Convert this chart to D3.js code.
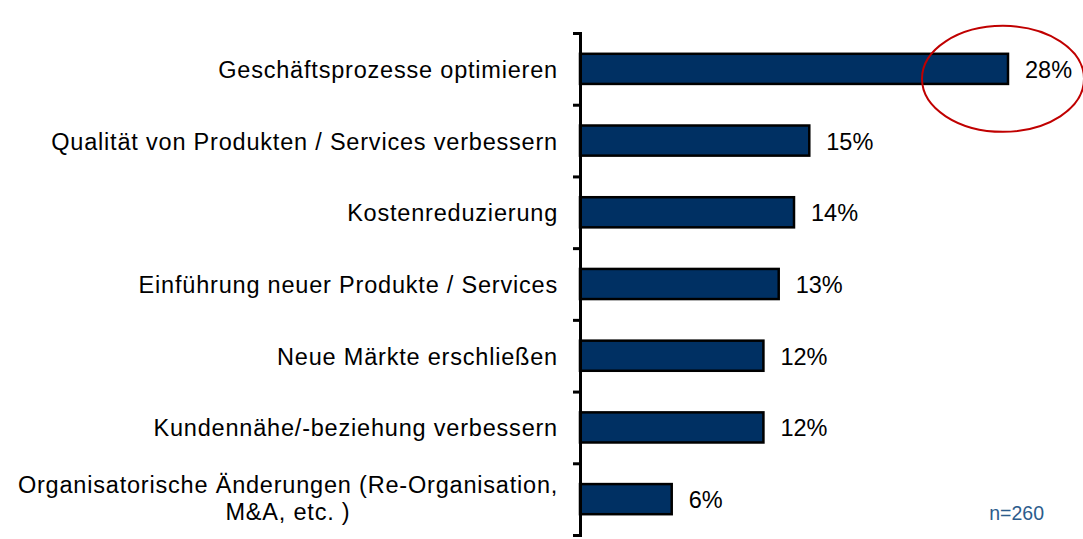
<!DOCTYPE html>
<html><head><meta charset="utf-8">
<script src="https://cdn.jsdelivr.net/npm/d3@7"></script>
<style>body{margin:0;background:#fff}svg{display:block}</style>
</head><body>
<script>
const categories = [
  "Geschäftsprozesse optimieren",
  "Qualität von Produkten / Services verbessern",
  "Kostenreduzierung",
  "Einführung neuer Produkte / Services",
  "Neue Märkte erschließen",
  "Kundennähe/-beziehung verbessern",
  "Organisatorische Änderungen (Re-Organisation,\nM&A, etc. )"
];
const values = [28, 15, 14, 13, 12, 12, 6];
const note = "n=260";

(function () {
const W = 1083, H = 539;
const svg = d3.select("body").append("svg").attr("width", W).attr("height", H);
const x0 = 580, yTop = 33, yBottom = 535;
const x = d3.scaleLinear().domain([0, 28]).range([x0, 1008]);
const y = d3.scaleBand().domain(categories).range([yTop, yBottom]).paddingInner(0.58).paddingOuter(0.29);
const font = "Liberation Sans, Arial, sans-serif";

// bars
svg.selectAll("rect.bar").data(values).join("rect")
  .attr("x", x(0)).attr("y", (d, i) => y(categories[i]))
  .attr("width", d => x(d) - x(0)).attr("height", y.bandwidth())
  .attr("fill", "#003063").attr("stroke", "#000").attr("stroke-width", 2.5);

// axis
const axis = d3.axisLeft(d3.scaleLinear().domain([0, 7]).range([yTop, yBottom]))
  .ticks(7).tickSize(7).tickFormat("");
const ag = svg.append("g").attr("transform", `translate(${x0},0)`).call(axis);
ag.select(".domain").attr("stroke", "#000").attr("stroke-width", 3);
ag.selectAll(".tick line").attr("stroke", "#000").attr("stroke-width", 3);

// category labels
categories.forEach((c, i) => {
  const lines = c.split("\n");
  const cy = y(c) + y.bandwidth() / 2;
  const t = svg.append("text").attr("font-family", font).attr("font-size", 23.5)
    .attr("letter-spacing", 0.8).attr("fill", "#000");
  if (lines.length === 1) {
    t.attr("x", 558).attr("y", cy + 9).attr("text-anchor", "end").text(c);
  } else {
    t.attr("text-anchor", "middle");
    lines.forEach((l, j) => {
      t.append("tspan").attr("x", 288).attr("y", cy - 6 + j * 27).text(l);
    });
  }
});

// value labels
svg.selectAll("text.val").data(values).join("text")
  .attr("x", d => x(d) + 17).attr("y", (d, i) => y(categories[i]) + y.bandwidth() / 2 + 9)
  .attr("font-family", font).attr("font-size", 23.5).attr("fill", "#000")
  .text(d => d + "%");

// highlight ellipse
svg.append("ellipse").attr("cx", x(28) - 5).attr("cy", y(categories[0]) + y.bandwidth() / 2 + 10)
  .attr("rx", 81).attr("ry", 53).attr("fill", "none").attr("stroke", "#c00000").attr("stroke-width", 2);

svg.append("text").attr("x", 1044).attr("y", 520).attr("text-anchor", "end")
  .attr("font-family", font).attr("font-size", 19.5).attr("fill", "#2c5c8c").text(note);
})();
</script>
</body></html>
